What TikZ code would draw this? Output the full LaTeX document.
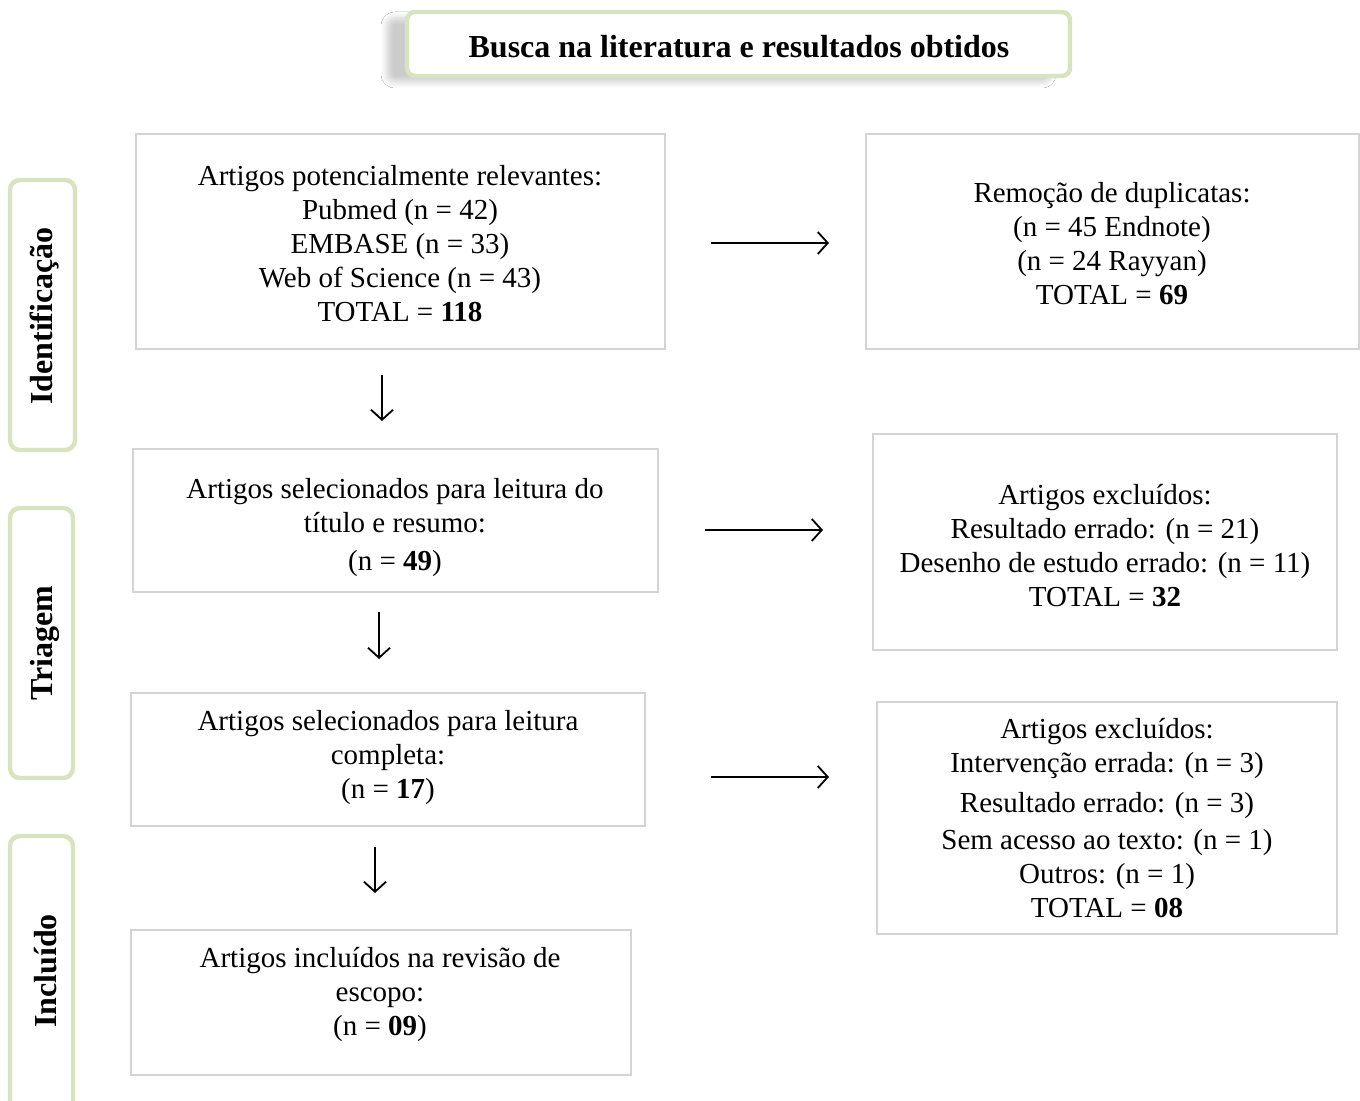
\documentclass[tikz,border=0pt]{standalone}
\usepackage{fontspec}
\setmainfont{Liberation Serif}
\usetikzlibrary{arrows.meta,fit,shadows.blur}
\definecolor{lgreen}{HTML}{D7E4BD}
\definecolor{lgray}{HTML}{D4D4D4}
\tikzset{
  box/.style={draw=lgray, line width=1pt, inner sep=0pt, fill=white},
  phase/.style={draw=lgreen, line width=2.2pt, rounded corners=5pt, inner sep=0pt, fill=white},
  body/.style={align=center, font=\fontsize{14.5}{17}\selectfont, inner sep=0pt},
  side/.style={rotate=90, font=\fontsize{16}{19}\selectfont\bfseries, inner sep=0pt},
  arr/.style={line width=0.9pt, -{Straight Barb[length=5pt,width=11pt,line width=0.9pt]}},
}
\begin{document}
\begin{tikzpicture}[x=0.5pt,y=-0.5pt]
\clip (0,0) rectangle (1360,1101);
\fill[white] (0,0) rectangle (1360,1101);

% title
\node[phase, rounded corners=4pt, fit={(407,12) (1070,76)},
      blur shadow={shadow xshift=-10pt, shadow yshift=-3pt, shadow blur steps=8, shadow blur radius=3pt, shadow opacity=20}] (title) {};
\node[font=\fontsize{16}{19}\selectfont\bfseries, inner sep=0pt] (ttitle) at (739,47) {Busca na literatura e resultados obtidos};

% phase boxes
\node[phase, fit={(10,180) (75,450)}] (pid) {};
\node[side] (tid) at (45,316) {Identificação};
\node[phase, fit={(10,508) (73,778)}] (ptr) {};
\node[side] (ttr) at (45,643) {Triagem};
\node[phase, fit={(10,836) (73,1130)}] (pin) {};
\node[side] (tin) at (46,971) {Incluído};

% left column boxes
\node[box, fit={(136,134) (665,349)}] (b1) {};
\node[body] (t1) at (400,244) {Artigos potencialmente relevantes:\\Pubmed (n = 42)\\EMBASE (n = 33)\\Web of Science (n = 43)\\TOTAL = \textbf{118}};

\node[box, fit={(133,449) (658,592)}] (b2) {};
\node[body] (t2) at (395,528) {Artigos selecionados para leitura do\\título e resumo:\\[2pt](n = \textbf{49})};

\node[box, fit={(131,693) (645,826)}] (b3) {};
\node[body] (t3) at (388,758) {Artigos selecionados para leitura\\completa:\\(n = \textbf{17})};

\node[box, fit={(131,930) (631,1075)}] (b4) {};
\node[body] (t4) at (380,994) {Artigos incluídos na revisão de\\escopo:\\(n = \textbf{09})};

% right column boxes
\node[box, fit={(866,134) (1359,349)}] (r1) {};
\node[body] (s1) at (1112,244) {Remoção de duplicatas:\\(n = 45 Endnote)\\(n = 24 Rayyan)\\TOTAL = \textbf{69}};

\node[box, fit={(873,434) (1337,650)}] (r2) {};
\node[body] (s2) at (1105,546) {Artigos excluídos:\\Resultado errado: (n = 21)\\Desenho de estudo errado: (n = 11)\\TOTAL = \textbf{32}};

\node[box, fit={(877,702) (1337,934)}] (r3) {};
\node[body] (s3) at (1107,818.5) {Artigos excluídos:\\Intervenção errada: (n = 3)\\[3pt]Resultado errado: (n = 3)\\[1.5pt]Sem acesso ao texto: (n = 1)\\Outros: (n = 1)\\TOTAL = \textbf{08}};

% arrows
\coordinate (h1s) at (711,243); \coordinate (h1e) at (829,243);
\coordinate (h2s) at (705,530); \coordinate (h2e) at (823,530);
\coordinate (h3s) at (711,777); \coordinate (h3e) at (829,777);
\coordinate (v1s) at (382,375); \coordinate (v1e) at (382,421);
\coordinate (v2s) at (379,612); \coordinate (v2e) at (379,659);
\coordinate (v3s) at (375,847); \coordinate (v3e) at (375,893);
\draw[arr] (h1s) -- (h1e);
\draw[arr] (h2s) -- (h2e);
\draw[arr] (h3s) -- (h3e);
\draw[arr] (v1s) -- (v1e);
\draw[arr] (v2s) -- (v2e);
\draw[arr] (v3s) -- (v3e);
\end{tikzpicture}
\end{document}
